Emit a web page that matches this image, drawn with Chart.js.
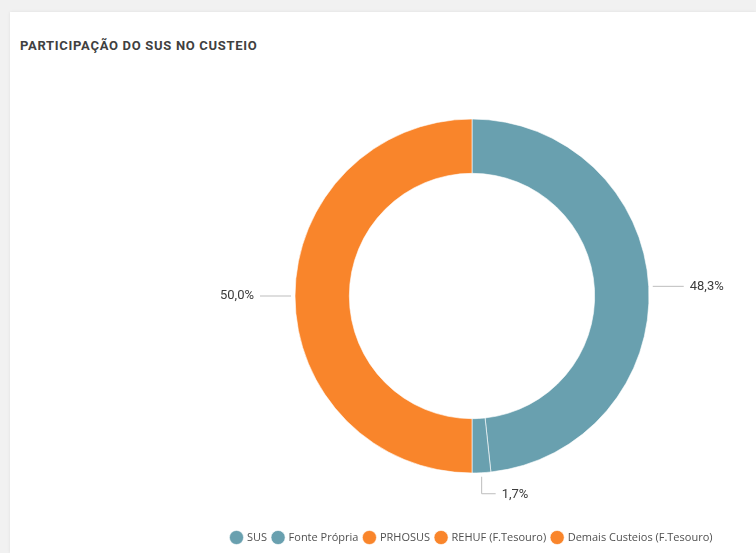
<!DOCTYPE html>
<html lang="pt">
<head>
  <meta charset="UTF-8" />
  <title>Participação do SUS no Custeio</title>
  <script src="https://cdn.jsdelivr.net/npm/chart.js"></script>
  <style>
    html, body { margin: 0; padding: 0; }
    body { width: 756px; height: 553px; background: #f1f1f1; position: relative; overflow: hidden; font-family: Roboto, sans-serif; }
    .card { position: absolute; left: 10px; top: 12px; right: 0; bottom: 0; background: #fff; box-shadow: 0 0 3px rgba(0,0,0,0.08); }
    .title { position: absolute; left: 20px; top: 38px; font: bold 13px Roboto, sans-serif; color: #404040; letter-spacing: 0.7px; }
    canvas { position: absolute; left: 0; top: 0; }
  </style>
</head>
<body>
  <div class="card"></div>
  <div class="title">PARTICIPAÇÃO DO SUS NO CUSTEIO</div>
  <canvas id="chart" width="756" height="553"></canvas>

  <script>
    // dados
    const categories = ['SUS', 'Fonte Própria', 'PRHOSUS', 'REHUF (F.Tesouro)', 'Demais Custeios (F.Tesouro)'];
    const values = [48.3, 1.7, 0, 0, 50.0];
    const colors = ['#69a0af', '#69a0af', '#f9852b', '#f9852b', '#f9852b'];

    // rótulos com linha guia, estilo Power BI
    const leaderLabels = {
      id: 'leaderLabels',
      afterDatasetsDraw(chart) {
        const ctx = chart.ctx;
        const meta = chart.getDatasetMeta(0);
        const total = values.reduce((a, b) => a + b, 0);
        ctx.save();
        ctx.font = '13px Roboto, sans-serif';
        ctx.fillStyle = '#3c3c3c';
        ctx.strokeStyle = '#bdbdbd';
        ctx.lineWidth = 1;
        ctx.textBaseline = 'middle';
        meta.data.forEach((arc, i) => {
          if (!values[i]) return;
          const p = arc.getProps(['x', 'y', 'startAngle', 'endAngle', 'outerRadius'], true);
          const mid = (p.startAngle + p.endAngle) / 2;
          const r = p.outerRadius + 4;
          const x0 = p.x + Math.cos(mid) * r;
          const y0 = p.y + Math.sin(mid) * r;
          const txt = (values[i] / total * 100).toFixed(1).replace('.', ',') + '%';
          ctx.beginPath();
          if (Math.abs(Math.cos(mid)) > 0.5) {
            const dir = Math.cos(mid) > 0 ? 1 : -1;
            const x1 = x0 + dir * 31;
            ctx.moveTo(x0, y0);
            ctx.lineTo(x1, y0);
            ctx.stroke();
            ctx.textAlign = dir > 0 ? 'left' : 'right';
            ctx.fillText(txt, x1 + dir * 6, y0);
          } else {
            const dirY = Math.sin(mid) > 0 ? 1 : -1;
            const y1 = y0 + dirY * 17;
            ctx.moveTo(x0, y0);
            ctx.lineTo(x0, y1);
            ctx.lineTo(x0 + 14, y1);
            ctx.stroke();
            ctx.textAlign = 'left';
            ctx.fillText(txt, x0 + 20, y1 + 1);
          }
        });
        ctx.restore();
      }
    };

    new Chart(document.getElementById('chart'), {
      type: 'doughnut',
      data: {
        labels: categories,
        datasets: [{
          data: values,
          backgroundColor: colors,
          borderColor: 'rgba(255,255,255,0.6)',
          borderWidth: 1
        }]
      },
      options: {
        responsive: false,
        animation: false,
        radius: 177,
        cutout: '69.3%',
        layout: { padding: { left: 188, top: 66, right: 0, bottom: 0 } },
        plugins: {
          tooltip: { enabled: false },
          legend: {
            position: 'bottom',
            labels: {
              usePointStyle: true,
              pointStyle: 'circle',
              boxWidth: 10,
              boxHeight: 10,
              padding: 6,
              color: '#505050',
              font: { family: "'Segoe UI', 'Open Sans', sans-serif", size: 11 }
            }
          }
        }
      },
      plugins: [leaderLabels]
    });
  </script>
</body>
</html>
